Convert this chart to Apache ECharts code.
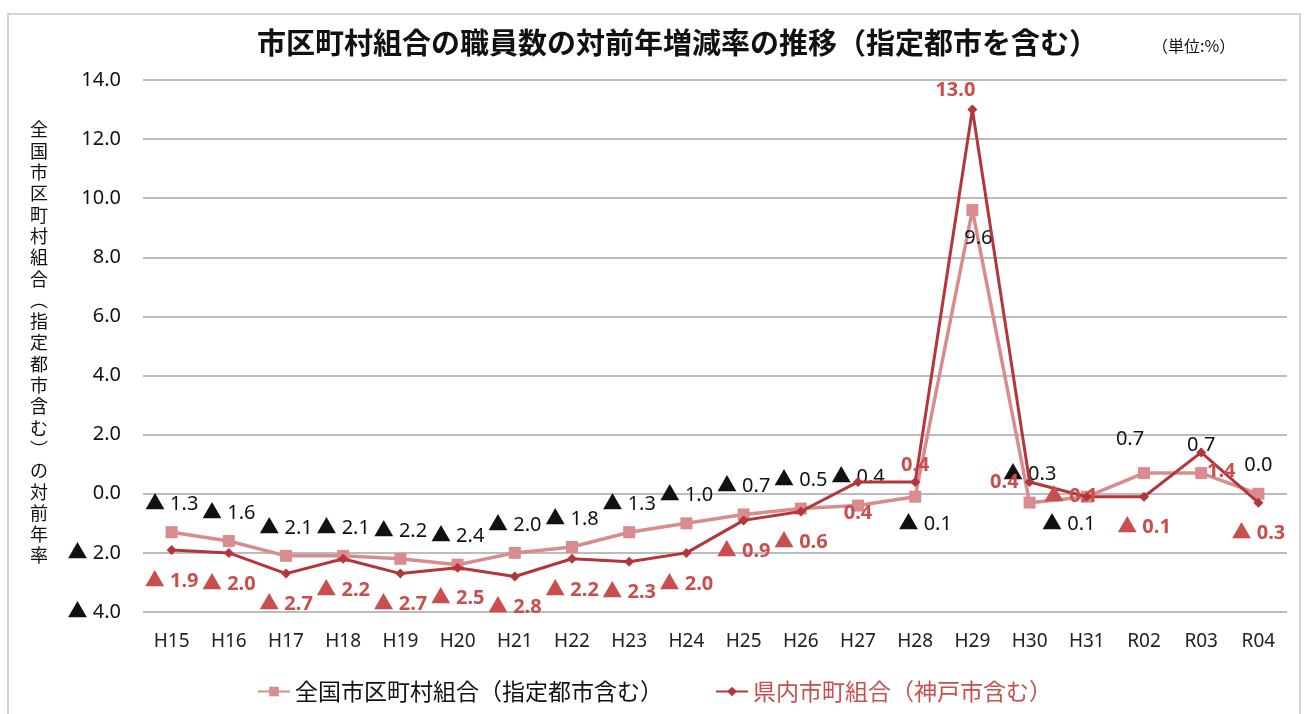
<!DOCTYPE html>
<html>
<head>
    <meta charset="utf-8">
    <title>市区町村組合の職員数の対前年増減率の推移</title>
    <script src="https://cdn.jsdelivr.net/npm/echarts@6/dist/echarts.min.js"></script>
</head>
<body style="margin:0;background:#fff;">
    <div id="main" style="width: 1309px;height: 714px;"></div>
    <script type="text/javascript">
// データ
var years = ['H15','H16','H17','H18','H19','H20','H21','H22','H23','H24','H25','H26','H27','H28','H29','H30','H31','R02','R03','R04'];
var zenkoku = [-1.3,-1.6,-2.1,-2.1,-2.2,-2.4,-2.0,-1.8,-1.3,-1.0,-0.7,-0.5,-0.4,-0.1,9.6,-0.3,-0.1,0.7,0.7,0.0];
var kennai  = [-1.9,-2.0,-2.7,-2.2,-2.7,-2.5,-2.8,-2.2,-2.3,-2.0,-0.9,-0.6,0.4,0.4,13.0,0.4,-0.1,-0.1,1.4,-0.3];
var yTicks = { min: -4, max: 14, interval: 2 };

var nameZenkoku = '全国市区町村組合（指定都市含む）';
var nameKennai = '県内市町組合（神戸市含む）';
var yName = '全国市区町村組合︵指定都市含む︶の対前年率';

var PINK = '#D98C8E';
var DARK = '#B3363A';
var RED_TXT = '#C84F4D';
var FONT = '"Noto Sans", "Noto Sans CJK JP", sans-serif';
var JP = '"Noto Sans CJK JP", sans-serif';

function fmt(v) {
    return v < 0 ? '▲ ' + (-v).toFixed(1) : v.toFixed(1);
}

// ラベル位置の個別調整（元グラフで手動配置されていたもの）
var zenLabelFix = {
    13: { position: 'bottom', offset: [10, 0] },
    14: { position: 'bottom', offset: [6, 0] },
    16: { position: 'bottom', offset: [-18, 0] },
    17: { position: 'top', offset: [-14, -6] }
};
var kenLabelFix = {
    13: { position: 'top', distance: 2 },
    14: { position: 'top', distance: 4, offset: [-17, 0] },
    15: { position: 'left', distance: 6 },
    16: { position: 'inside', offset: [-16, 0] },
    18: { position: 'bottom', distance: 4, offset: [20, 0] }
};

function buildData(values, fix) {
    return values.map(function (v, i) {
        var item = { value: v };
        if (fix[i]) item.label = fix[i];
        return item;
    });
}

var myChart = echarts.init(document.getElementById('main'));

myChart.setOption({
    backgroundColor: '#fff',
    animation: false,
    textStyle: { fontFamily: FONT },
    title: {
        text: '市区町村組合の職員数の対前年増減率の推移（指定都市を含む）',
        left: 252,
        top: 23,
        textStyle: { fontSize: 29, fontWeight: 'bold', color: '#111', fontFamily: JP }
    },
    graphic: [
        {
            type: 'rect',
            shape: { x: 8, y: 14, width: 1292, height: 710 },
            style: { fill: 'none', stroke: '#C8C8C8', lineWidth: 1.5 },
            silent: true
        },
        {
            type: 'text',
            left: 1152,
            top: 38,
            style: { text: '（単位:%）', fontSize: 16, fill: '#111', fontFamily: JP }
        },
        {
            type: 'text',
            left: 30,
            top: 119,
            style: {
                text: yName.split('').join('\n'),
                fontSize: 18,
                lineHeight: 21.3,
                fill: '#111',
                fontFamily: JP
            }
        }
    ],
    legend: {
        bottom: 6,
        left: 'center',
        itemGap: 52,
        itemWidth: 32,
        itemHeight: 12,
        textStyle: { fontSize: 23, fontFamily: JP },
        data: [
            { name: nameZenkoku, textStyle: { color: '#111' } },
            { name: nameKennai, textStyle: { color: RED_TXT } }
        ]
    },
    grid: {
        left: 143,
        right: 22,
        top: 80,
        bottom: 102
    },
    xAxis: {
        type: 'category',
        data: years,
        boundaryGap: true,
        axisLine: { show: false },
        axisTick: { show: false },
        axisLabel: { fontSize: 19, color: '#222', margin: 20 }
    },
    yAxis: {
        type: 'value',
        min: yTicks.min,
        max: yTicks.max,
        interval: yTicks.interval,
        axisLine: { show: false },
        axisTick: { show: false },
        axisLabel: { fontSize: 20, color: '#111', margin: 22, formatter: fmt },
        splitLine: { lineStyle: { color: '#A6A6A6', width: 1.5 } }
    },
    series: [
        {
            name: nameZenkoku,
            type: 'line',
            data: buildData(zenkoku, zenLabelFix),
            color: PINK,
            symbol: 'rect',
            symbolSize: 12,
            lineStyle: { width: 3.5, color: PINK },
            itemStyle: { color: PINK },
            label: {
                show: true,
                position: 'top',
                distance: 12,
                fontSize: 20,
                color: '#111',
                formatter: function (p) { return fmt(p.value); }
            },
            z: 2
        },
        {
            name: nameKennai,
            type: 'line',
            data: buildData(kennai, kenLabelFix),
            color: DARK,
            symbol: 'diamond',
            symbolSize: 10,
            lineStyle: { width: 3, color: DARK },
            itemStyle: { color: DARK },
            label: {
                show: true,
                position: 'bottom',
                distance: 16,
                fontSize: 20,
                fontWeight: 'bold',
                color: RED_TXT,
                formatter: function (p) { return fmt(p.value); }
            },
            z: 3
        }
    ]
});
    </script>
</body>
</html>
